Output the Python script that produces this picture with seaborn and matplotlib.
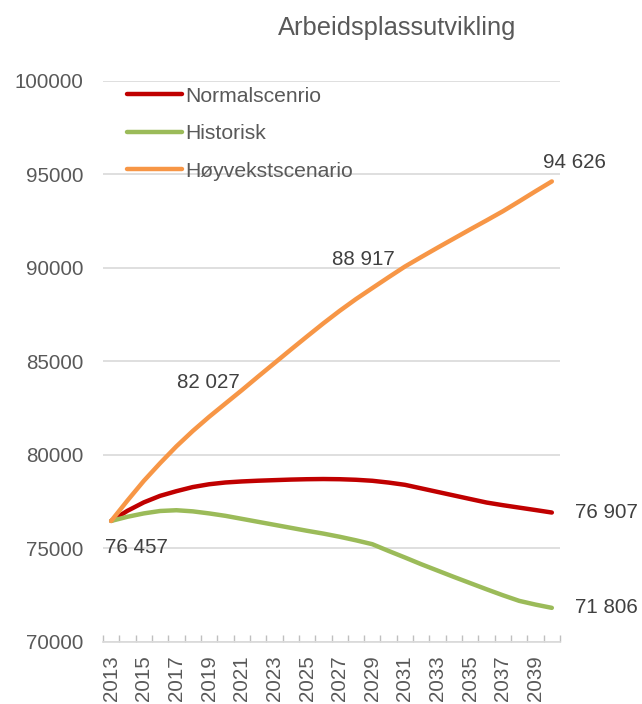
import numpy as np
import pandas as pd
import matplotlib
matplotlib.use("Agg")
import matplotlib.pyplot as plt
import seaborn as sns

years = list(range(2013, 2041))
normal = [76457, 77000, 77450, 77800, 78050, 78270, 78420, 78515, 78570, 78610,
          78640, 78670, 78690, 78700, 78690, 78660, 78606, 78510, 78390, 78200,
          78010, 77820, 77630, 77442, 77300, 77170, 77040, 76907]
historisk = [76457, 76680, 76860, 76990, 77030, 76970, 76860, 76730, 76570, 76410,
             76250, 76090, 75930, 75780, 75610, 75420, 75212, 74850, 74500, 74140,
             73800, 73460, 73130, 72800, 72480, 72180, 71980, 71806]
hoyvekst = [76457, 77550, 78600, 79550, 80450, 81270, 82027, 82740, 83450, 84180,
            84900, 85620, 86330, 87030, 87700, 88330, 88917, 89500, 90070, 90580,
            91080, 91570, 92060, 92540, 93030, 93560, 94100, 94626]
series_names = ["Normalscenrio", "Historisk", "Høyvekstscenario"]
series_values = [normal, historisk, hoyvekst]
colors = ["#C00000", "#9BBB59", "#F79646"]
title = "Arbeidsplassutvikling"
y_ticks = list(range(70000, 100001, 5000))

rows = []
for name, vals in zip(series_names, series_values):
    for i, (yr, v) in enumerate(zip(years, vals)):
        rows.append({"pos": i, "year": yr, "value": v, "series": name})
df = pd.DataFrame(rows)

sns.set_theme(style="white")
plt.rcParams["font.family"] = ["Liberation Sans", "DejaVu Sans"]

fig = plt.figure(figsize=(6.42, 7.04), dpi=100)
ax = fig.add_axes([103 / 642, 1 - 641.6 / 704, 457 / 642, (641.6 - 81) / 704])

sns.lineplot(data=df, x="pos", y="value", hue="series", hue_order=series_names,
             palette=colors, linewidth=3.2, ax=ax, solid_capstyle="round")

ax.set_xlim(-0.5, len(years) - 0.5)
ax.set_ylim(70000, 100000)
ax.set_xlabel("")
ax.set_ylabel("")

grid_c = "#d9d9d9"
ax.set_yticks(y_ticks)
ax.set_yticklabels([str(v) for v in y_ticks], fontsize=14.8, color="#595959")
ax.yaxis.grid(True, color=grid_c, linewidth=1.2)
ax.xaxis.grid(False)
ax.set_axisbelow(True)
ax.tick_params(axis="y", length=0, pad=14)

ax.set_xticks(range(0, len(years), 2))
ax.set_xticklabels([str(y) for y in years[::2]], rotation=90, fontsize=14.8, color="#595959")
ax.set_xticks(np.arange(-0.5, len(years), 1), minor=True)
ax.tick_params(axis="x", which="major", length=0, pad=10)
ax.tick_params(axis="x", which="minor", length=5, width=1, direction="in", color="#bfbfbf", bottom=True)

for s in ["left", "right", "top"]:
    ax.spines[s].set_visible(False)
ax.spines["bottom"].set_color(grid_c)
ax.spines["bottom"].set_linewidth(1.2)

leg = ax.legend(loc="upper left", bbox_to_anchor=(0.052, 0.99), frameon=False,
                fontsize=15.2, handlelength=2.6, handletextpad=0.15,
                labelspacing=0.88, borderaxespad=0, borderpad=0)
for t in leg.get_texts():
    t.set_color("#595959")
for h in leg.get_lines():
    h.set_linewidth(3.2)
    h.set_solid_capstyle("round")

def fmt(v):
    return f"{v:,}".replace(",", " ")

labels = [
    (normal, 0, (25, -27), "center"),
    (hoyvekst, 6, (-1, 34), "center"),
    (hoyvekst, 16, (-9, 29), "center"),
    (hoyvekst, 27, (23, 19), "center"),
    (normal, 27, (23, 0), "left"),
    (historisk, 27, (23, 0), "left"),
]
for vals, idx, off, ha in labels:
    ax.annotate(fmt(vals[idx]), xy=(idx, vals[idx]), xytext=off,
                textcoords="offset pixels", ha=ha, va="center",
                fontsize=14.8, color="#404040", annotation_clip=False)

fig.text(397 / 642, 1 - 28 / 704, title, ha="center", va="center",
         fontsize=18.4, color="#595959")

fig.savefig("out.png", dpi=100)
